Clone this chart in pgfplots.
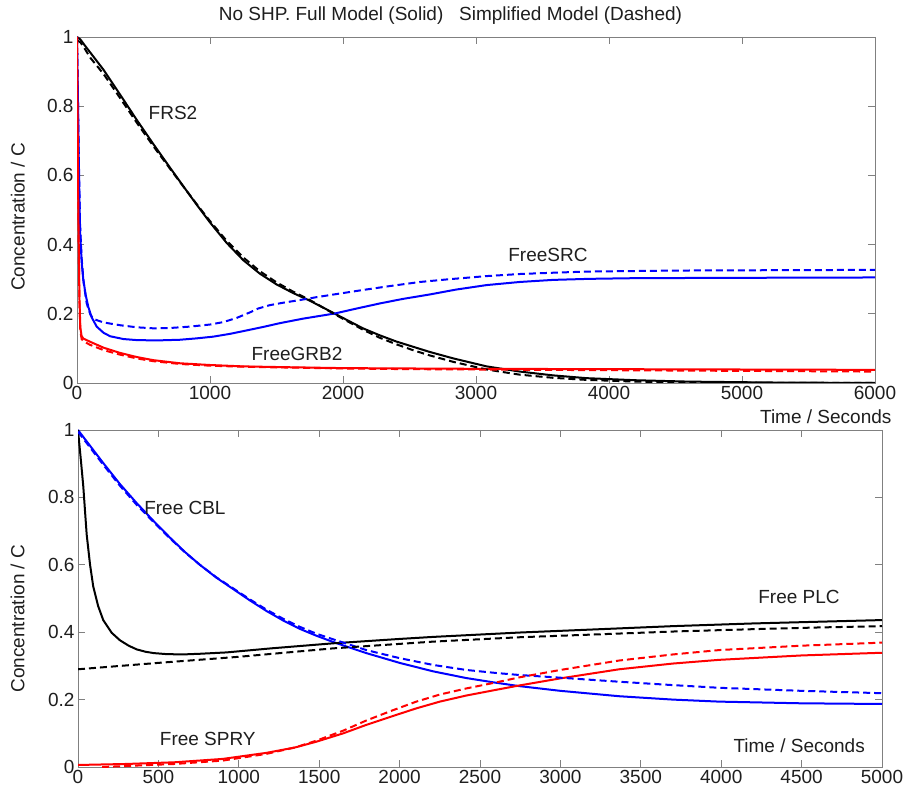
\documentclass[border=0pt]{standalone}
\usepackage{pgfplots}
\pgfplotsset{compat=1.18}
\usepackage{fontspec}
\setmainfont{Liberation Sans}
\definecolor{axgray}{RGB}{128,128,128}
\definecolor{txt}{RGB}{30,30,30}
\definecolor{mblue}{RGB}{0,0,255}
\definecolor{mred}{RGB}{255,0,0}
\pgfplotsset{
  myax/.style={
    scale only axis,
    anchor=south west,
    clip mode=individual,
    font=\fontsize{19}{22}\selectfont,
    /pgf/number format/assume math mode=true,
    axis line style={axgray, line width=0.8pt},
    tick style={axgray, line width=0.8pt},
    tick align=inside,
    major tick length=7pt,
    xtick pos=both, ytick pos=both,
    ymin=0, ymax=1,
    ytick={0,0.2,0.4,0.6,0.8,1},
    yticklabels={0,0.2,0.4,0.6,0.8,1},
    ticklabel style={text=txt},
    label style={text=txt},
    every axis plot/.append style={line width=2pt},
  },
  sol/.style={line width=2pt, line join=round},
  dsh/.style={line width=2pt, dash pattern=on 7pt off 4pt},
}
\begin{document}
\begin{tikzpicture}[x=1pt,y=1pt]
\path[use as bounding box] (0,0) rectangle (910,796);
% ---------------- top axis ----------------
\begin{axis}[myax,
  at={(77pt,413pt)}, width=798pt, height=346pt,
  xmin=0, xmax=6000,
  xtick={0,1000,2000,3000,4000,5000,6000},
  xticklabels={0,1000,2000,3000,4000,5000,6000},
  xlabel={Time / Seconds},
  xlabel style={at={(axis description cs:1.025,-0.098)}, anchor=east},
  ylabel={Concentration / C},
  ylabel style={at={(axis description cs:-0.074,0.48)}, anchor=center},
]
\addplot[sol, black] coordinates {(0,1.0) (25,0.993) (60,0.975) (100,0.955) (200,0.905) (325,0.833) (450,0.76) (575,0.69) (700,0.622) (825,0.555) (910,0.51) (1000,0.464) (1125,0.405) (1250,0.355) (1375,0.316) (1500,0.285) (1625,0.26) (1750,0.238) (1850,0.218) (1950,0.198) (2050,0.178) (2150,0.158) (2275,0.138) (2400,0.12) (2525,0.105) (2650,0.09) (2830,0.071) (3080,0.048) (3330,0.033) (3580,0.022) (3830,0.014) (4200,0.008) (4600,0.004) (5200,0.0015) (6000,0.0)};
\addplot[sol, mblue] coordinates {(0,1.0) (8,0.8) (15,0.6) (23,0.44) (35,0.35) (47,0.30) (65,0.255) (85,0.22) (110,0.19) (148,0.163) (200,0.145) (250,0.135) (350,0.127) (450,0.124) (600,0.123) (774,0.125) (900,0.129) (1025,0.134) (1150,0.142) (1276,0.152) (1400,0.162) (1526,0.173) (1700,0.186) (1940,0.201) (2100,0.215) (2278,0.23) (2450,0.243) (2654,0.256) (2850,0.27) (3080,0.283) (3330,0.292) (3581,0.298) (3850,0.301) (4200,0.303) (5000,0.304) (6000,0.305)};
\addplot[sol, mred] coordinates {(0,1.0) (5,0.75) (10,0.5) (18,0.25) (25,0.16) (35,0.135) (50,0.128) (100,0.119) (200,0.102) (323,0.087) (450,0.075) (574,0.066) (774,0.057) (1000,0.052) (1250,0.048) (1526,0.046) (2000,0.043) (2500,0.042) (3000,0.041) (4000,0.04) (5000,0.039) (6000,0.038)};
\addplot[dsh, black] coordinates {(0,0.99) (25,0.985) (60,0.965) (100,0.94) (200,0.893) (325,0.823) (450,0.752) (575,0.684) (700,0.619) (825,0.555) (910,0.512) (1000,0.468) (1125,0.411) (1250,0.363) (1375,0.323) (1500,0.291) (1625,0.264) (1750,0.24) (1850,0.218) (1950,0.196) (2050,0.175) (2150,0.154) (2275,0.131) (2400,0.112) (2525,0.095) (2650,0.08) (2830,0.061) (3080,0.039) (3330,0.024) (3580,0.015) (3830,0.009) (4200,0.004) (4600,0.002) (5200,0.0005) (6000,0.0)};
\addplot[dsh, mblue] coordinates {(0,1.0) (8,0.8) (15,0.62) (23,0.46) (35,0.36) (50,0.29) (73,0.23) (100,0.198) (123,0.185) (200,0.175) (323,0.167) (450,0.161) (574,0.158) (700,0.159) (850,0.163) (1000,0.169) (1100,0.176) (1200,0.188) (1300,0.204) (1360,0.215) (1450,0.225) (1550,0.232) (1680,0.24) (1800,0.248) (1950,0.257) (2153,0.269) (2350,0.28) (2579,0.292) (2800,0.3) (3080,0.309) (3331,0.315) (3600,0.319) (3832,0.322) (4500,0.325) (6000,0.327)};
\addplot[dsh, mred] coordinates {(0,1.0) (5,0.75) (10,0.5) (18,0.24) (25,0.15) (35,0.127) (50,0.12) (100,0.11) (200,0.095) (323,0.082) (450,0.071) (574,0.063) (774,0.055) (1000,0.05) (1250,0.047) (1526,0.045) (2000,0.042) (2500,0.04) (3000,0.039) (4000,0.037) (5000,0.035) (6000,0.033)};
\node[text=txt] at (axis cs:722,0.78) {FRS2};
\node[text=txt] at (axis cs:3541,0.37) {FreeSRC};
\node[text=txt] at (axis cs:1654,0.084) {FreeGRB2};
\node[text=txt, anchor=center] at (rel axis cs:0.468,1.062) {No SHP. Full Model (Solid)\ \ \ Simplified Model (Dashed)};
\end{axis}
% ---------------- bottom axis ----------------
\begin{axis}[myax,
  at={(78pt,29pt)}, width=804pt, height=337pt,
  xmin=0, xmax=5000,
  xtick={0,500,1000,1500,2000,2500,3000,3500,4000,4500,5000},
  xticklabels={0,500,1000,1500,2000,2500,3000,3500,4000,4500,5000},
  xlabel={Time / Seconds},
  xlabel style={at={(axis description cs:0.983,0.062)}, anchor=east},
  ylabel={Concentration / C},
  ylabel style={at={(axis description cs:-0.075,0.44)}, anchor=center},
]
\addplot[sol, mblue] coordinates {(0,1.0) (80,0.95) (157,0.902) (260,0.84) (365,0.783) (470,0.73) (571,0.681) (665,0.638) (758,0.6) (860,0.562) (965,0.528) (1070,0.494) (1172,0.463) (1275,0.435) (1379,0.41) (1480,0.39) (1586,0.371) (1793,0.338) (2000,0.309) (2207,0.284) (2414,0.264) (2600,0.25) (2745,0.24) (3000,0.226) (3366,0.21) (3700,0.2) (3988,0.194) (4500,0.189) (5000,0.187)};
\addplot[sol, black] coordinates {(0,1.0) (10,0.95) (20,0.9) (33,0.832) (45,0.75) (54,0.69) (75,0.6) (95,0.535) (125,0.478) (157,0.436) (210,0.398) (261,0.376) (315,0.36) (365,0.349) (420,0.342) (471,0.338) (550,0.335) (650,0.334) (758,0.336) (923,0.34) (1200,0.352) (1586,0.367) (2000,0.38) (2207,0.386) (2745,0.399) (3200,0.408) (3700,0.418) (4200,0.426) (4600,0.431) (5000,0.436)};
\addplot[sol, mred] coordinates {(0,0.006) (300,0.009) (600,0.014) (900,0.024) (1172,0.042) (1350,0.058) (1482,0.075) (1650,0.1) (1793,0.125) (1950,0.15) (2104,0.174) (2250,0.194) (2414,0.212) (2600,0.229) (2745,0.242) (3000,0.263) (3366,0.29) (3700,0.307) (3988,0.318) (4500,0.331) (5000,0.339)};
\addplot[dsh, mblue] coordinates {(0,0.995) (80,0.945) (157,0.897) (260,0.835) (365,0.778) (470,0.727) (571,0.679) (665,0.637) (758,0.6) (860,0.563) (965,0.53) (1070,0.497) (1172,0.467) (1275,0.44) (1379,0.416) (1480,0.396) (1586,0.379) (1793,0.347) (2000,0.323) (2207,0.303) (2414,0.288) (2600,0.279) (2745,0.273) (3000,0.265) (3366,0.253) (3700,0.243) (3988,0.235) (4500,0.226) (5000,0.219)};
\addplot[dsh, black] coordinates {(0,0.29) (500,0.309) (1000,0.327) (1586,0.352) (2207,0.372) (2745,0.385) (3200,0.393) (3700,0.402) (4200,0.409) (4600,0.414) (5000,0.418)};
\addplot[dsh, mred] coordinates {(150,0.0) (300,0.003) (600,0.009) (900,0.019) (1172,0.039) (1350,0.058) (1482,0.078) (1650,0.108) (1793,0.138) (1950,0.167) (2104,0.194) (2250,0.215) (2414,0.233) (2600,0.251) (2745,0.266) (3000,0.288) (3366,0.316) (3700,0.334) (3988,0.347) (4500,0.36) (5000,0.369)};
\node[text=txt] at (axis cs:665,0.769) {Free CBL};
\node[text=txt] at (axis cs:4484,0.504) {Free PLC};
\node[text=txt] at (axis cs:807,0.083) {Free SPRY};
\end{axis}
\end{tikzpicture}
\end{document}
